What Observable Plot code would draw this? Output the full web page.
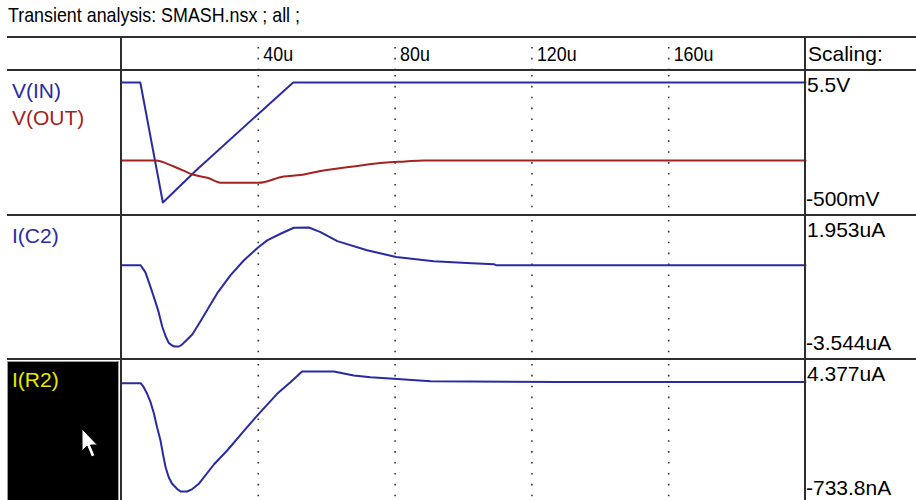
<!DOCTYPE html>
<html><head><meta charset="utf-8">
<script src="https://cdn.jsdelivr.net/npm/d3@7"></script>
<script src="https://cdn.jsdelivr.net/npm/@observablehq/plot@0.6"></script>
<style>
html,body{margin:0;padding:0;background:#fff;}
#root{position:relative;width:916px;height:500px;overflow:hidden;background:#fff;font-family:"Liberation Sans",Arial,sans-serif;color:#000;}
.hl{position:absolute;left:7px;width:909px;height:2px;background:#2e2e2e;}
.vl{position:absolute;width:2px;top:36px;height:464px;background:#2e2e2e;}
.lbl{position:absolute;font-size:21px;line-height:1;white-space:nowrap;}
.plot{position:absolute;left:0;width:916px;}
</style></head><body><div id="root"></div>
<script>
// ---------- data ----------
const title = "Transient analysis: SMASH.nsx ; all ;";
const xTicks = [40, 80, 120, 160];
const xUnit = "u";
const scaleHeader = "Scaling:";
const scaleTop = ["5.5V", "1.953uA", "4.377uA"];
const scaleBottom = ["-500mV", "-3.544uA", "-733.8nA"];
const scaleMin = [-0.5, -3.544, -0.7338];
const scaleMax = [5.5, 1.953, 4.377];

// V(IN) [V] vs time [us]
const vinT = [0, 5.5, 12.1, 22.1, 40, 50.2, 200];
const vinV = [5.5, 5.5, -0.5, 1.15, 3.93, 5.5, 5.5];
// V(OUT) [V]
const voutT = [0, 10, 15.3, 21.1, 25.1, 29.4, 40.1, 47.4, 52.3, 58.2, 69.9, 76.6, 83.0, 88.3, 200];
const voutV = [1.6, 1.6, 1.3, 0.885, 0.735, 0.485, 0.485, 0.8, 0.875, 1.075, 1.35, 1.485, 1.55, 1.6, 1.6];
// I(C2) [uA]
const ic2T = [0, 5.6, 7.0, 8.5, 9.9, 10.9, 11.9, 12.9, 13.8, 14.8, 15.6, 16.8, 17.6, 18.7, 20.7, 23.1, 25.1, 28.0, 31.9, 35.8, 40.1, 42.6, 46.5, 50.4, 54.8, 58.2, 63.1, 71.8, 80.3, 91.3, 101, 108.9, 109.5, 200];
const ic2V = [0.212, 0.212, -0.12, -0.8, -1.47, -1.98, -2.62, -3.07, -3.375, -3.5, -3.544, -3.544, -3.47, -3.3, -2.99, -2.38, -1.85, -1.08, -0.246, 0.441, 1.05, 1.357, 1.664, 1.94, 1.953, 1.74, 1.325, 0.899, 0.593, 0.396, 0.318, 0.258, 0.212, 0.212];
// I(R2) [uA]
const ir2T = [0, 5.6, 6.5, 7.5, 8.5, 9.5, 10.4, 11.4, 12.2, 12.9, 13.8, 14.8, 16.3, 17.3, 19.2, 20.7, 22.6, 27, 30.9, 36.3, 40.6, 45.5, 49.4, 52.8, 62.1, 67.9, 72.8, 79.6, 90.4, 128, 200];
const ir2V = [3.879, 3.879, 3.708, 3.427, 3.07, 2.575, 2.005, 1.438, 0.8, 0.301, -0.125, -0.406, -0.63, -0.7338, -0.7338, -0.63, -0.406, 0.416, 1.012, 1.937, 2.644, 3.427, 3.921, 4.377, 4.377, 4.207, 4.134, 4.066, 3.964, 3.93, 3.93];

const blue = "#2a2aa2", red = "#a42222";
const panels = [
  {top: 70, h: 145, names: [["V(IN)", blue], ["V(OUT)", red]], series: [[vinT, vinV, blue, "linear"], [voutT, voutV, red, "monotone-x"]]},
  {top: 215, h: 144, names: [["I(C2)", blue]], series: [[ic2T, ic2V, blue, "linear"]]},
  {top: 359, h: 145, names: [["I(R2)", "#e8e800"]], series: [[ir2T, ir2V, blue, "linear"]]}
];

// ---------- layout ----------
const root = document.getElementById("root");
function el(cls, css, text) {
  const d = document.createElement("div");
  d.className = cls; Object.assign(d.style, css);
  if (text != null) d.textContent = text;
  root.appendChild(d); return d;
}
const font = "'Liberation Sans', Arial, sans-serif";
const dots = {stroke: "#333", strokeWidth: 1.6, strokeDasharray: "1.6,9.3"};
const common = {width: 916, marginLeft: 121, marginRight: 111, marginTop: 0, marginBottom: 0,
  style: {background: "transparent", fontFamily: font, overflow: "visible"}};

el("lbl", {left: "8px", top: "4px", transform: "scaleX(0.85)", transformOrigin: "0 0"}, title);

// header axis row
const header = Plot.plot({...common, height: 34,
  x: {domain: [0, 200], axis: null}, y: {axis: null},
  marks: [
    Plot.ruleX(xTicks, {...dots}),
    Plot.text(xTicks, {x: d => d, text: d => d + xUnit, frameAnchor: "middle", textAnchor: "start", dx: 5, dy: 1, fontSize: 21, fill: "#000"})
  ]});
d3.select(header).selectAll("text").each(function() {
  const t = this.getAttribute("transform") || "";
  this.setAttribute("transform", t + " scale(0.85,1)");
});
el("plot", {top: "36px"}).appendChild(header);
el("lbl", {left: "808px", top: "43px"}, scaleHeader);

// black legend box behind I(R2)
el("", {position: "absolute", left: "7px", top: "361px", width: "110px", height: "140px", background: "#000", border: "1px solid #9a9a9a"});

panels.forEach((p, i) => {
  const chart = Plot.plot({...common, height: p.h,
    x: {domain: [0, 200], axis: null},
    y: {domain: [scaleMin[i], scaleMax[i]], axis: null, insetTop: 12, insetBottom: 13},
    marks: [
      Plot.ruleX(xTicks, {...dots, strokeDashoffset: 6}),
      ...p.series.map(([T, V, c, cv]) => Plot.line(T.map((t, k) => ({t, v: V[k]})), {x: "t", y: "v", stroke: c, strokeWidth: 2, curve: cv, strokeLinejoin: "round"}))
    ]});
  el("plot", {top: p.top + "px"}).appendChild(chart);
  p.names.forEach(([n, c], k) => el("lbl", {left: "12px", top: (p.top + 10 + k * 27) + "px", color: c}, n));
  el("lbl", {left: "807px", top: (p.top + 4) + "px"}, scaleTop[i]);
  el("lbl", {left: "806px", top: (p.top + p.h - 27) + "px"}, scaleBottom[i]);
});

// frame lines
[36, 69, 214, 358].forEach(y => el("hl", {top: y + "px"}));
[120, 804].forEach(x => el("vl", {left: x + "px"}));

// mouse pointer
const ns = "http://www.w3.org/2000/svg";
const cur = document.createElementNS(ns, "svg");
cur.setAttribute("width", "22"); cur.setAttribute("height", "34");
Object.assign(cur.style, {position: "absolute", left: "81px", top: "428px"});
const poly = document.createElementNS(ns, "polygon");
poly.setAttribute("points", "1,1 1,23 6,18 10.5,29 14,27.5 9.5,17 16.5,17");
poly.setAttribute("fill", "#fff"); poly.setAttribute("stroke", "#000"); poly.setAttribute("stroke-width", "1");
cur.appendChild(poly); root.appendChild(cur);
</script></body></html>
